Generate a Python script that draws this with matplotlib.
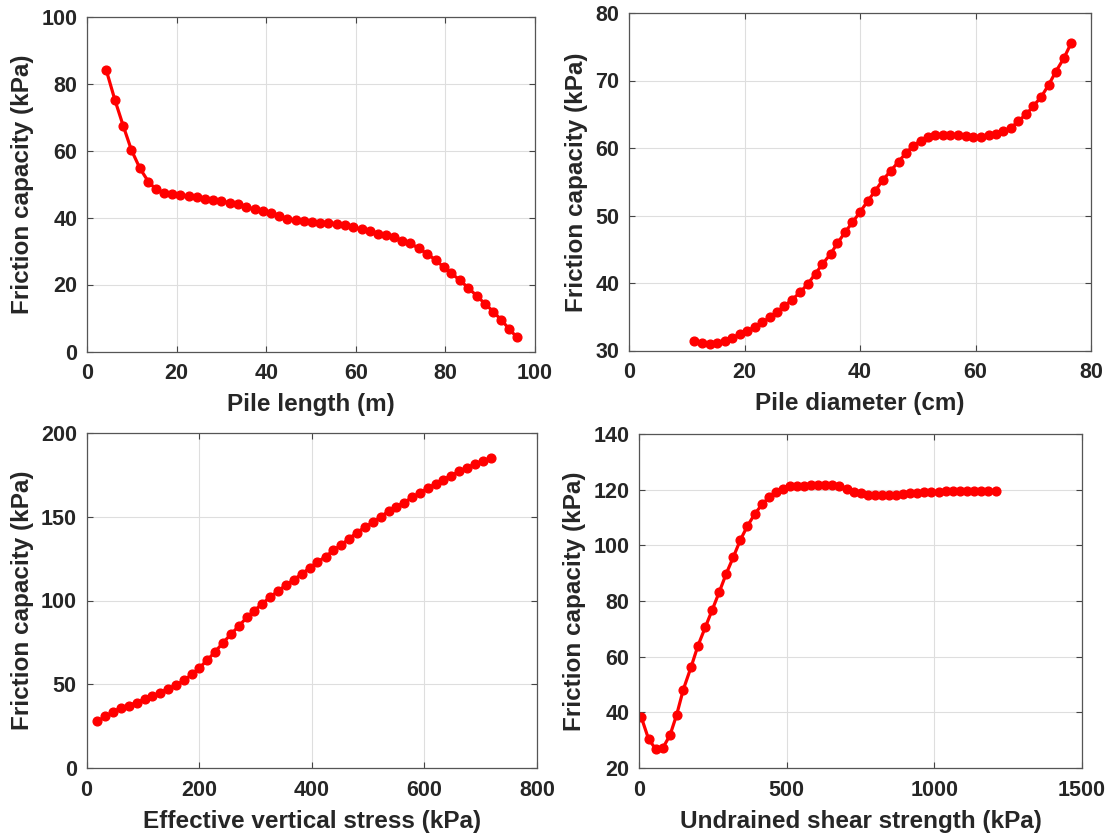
import matplotlib.pyplot as plt
import numpy as np

# ---- data ----
pile_len = [4.3, 6.2, 8.1, 9.9, 11.8, 13.7, 15.4, 17.2, 19.0, 20.8, 22.7, 24.6, 26.4,
            28.1, 30.0, 31.9, 33.7, 35.5, 37.4, 39.2, 41.0, 42.8, 44.7, 46.6, 48.4,
            50.2, 52.1, 53.9, 55.7, 57.5, 59.4, 61.3, 63.1, 64.9, 66.7, 68.5, 70.4,
            72.2, 74.0, 76.0, 77.8, 79.7, 81.3, 83.2, 85.1, 87.0, 88.8, 90.7, 92.4,
            94.2, 95.9]
fric_len = [84.0, 75.2, 67.3, 60.2, 54.7, 50.7, 48.4, 47.2, 46.9, 46.6, 46.3, 46.0, 45.6,
            45.3, 44.9, 44.4, 43.9, 43.2, 42.4, 41.9, 41.2, 40.5, 39.6, 39.2, 39.0,
            38.7, 38.5, 38.4, 38.2, 37.7, 37.1, 36.5, 35.9, 35.2, 34.7, 34.1, 33.1,
            32.3, 30.8, 29.1, 27.3, 25.1, 23.4, 21.3, 19.0, 16.6, 14.3, 11.9, 9.5,
            6.8, 4.3]

pile_diam = [11.2, 12.6, 14.0, 15.3, 16.7, 17.9, 19.2, 20.5, 21.8, 23.1, 24.4, 25.6, 26.9,
             28.2, 29.6, 31.0, 32.3, 33.5, 34.9, 36.1, 37.4, 38.7, 40.0, 41.3, 42.6,
             43.9, 45.3, 46.7, 47.9, 49.2, 50.5, 51.8, 53.0, 54.4, 55.6, 57.0, 58.3,
             59.6, 60.9, 62.3, 63.6, 64.8, 66.2, 67.4, 68.8, 70.0, 71.4, 72.7, 73.9,
             75.3, 76.6]
fric_diam = [31.4, 31.1, 30.9, 31.1, 31.4, 31.9, 32.4, 32.9, 33.5, 34.2, 34.9, 35.7, 36.6,
             37.5, 38.6, 39.9, 41.4, 42.8, 44.3, 45.9, 47.5, 49.0, 50.5, 52.1, 53.6,
             55.2, 56.6, 58.0, 59.2, 60.3, 61.1, 61.7, 62.0, 62.0, 62.0, 61.9, 61.8,
             61.7, 61.7, 61.9, 62.1, 62.5, 63.0, 64.0, 65.0, 66.2, 67.6, 69.4, 71.3,
             73.3, 75.6]

eff_stress = [19.5, 33.1, 47.3, 60.9, 75.7, 89.4, 103.5, 117.2, 131.4, 145.0, 159.8, 173.4,
              187.6, 200.6, 214.2, 227.8, 242.6, 256.2, 270.4, 284.6, 298.2, 312.4, 326.6,
              340.8, 354.4, 368.6, 382.8, 396.4, 410.0, 424.8, 438.4, 452.6, 466.3, 479.9,
              494.1, 508.3, 522.5, 536.7, 550.3, 563.9, 578.1, 592.3, 605.9, 620.1, 633.7,
              647.9, 662.1, 675.7, 689.9, 704.1, 717.7]
fric_stress = [27.8, 30.8, 33.3, 36.1, 37.3, 39.1, 41.1, 42.9, 45.0, 47.4, 49.6, 52.4, 56.0,
               59.9, 64.3, 69.2, 74.8, 79.8, 84.7, 89.9, 94.0, 98.2, 102.2, 105.8, 109.3,
               112.5, 116.1, 119.4, 123.0, 126.2, 130.0, 133.3, 136.9, 140.5, 143.7, 146.6,
               150.0, 153.4, 156.0, 158.5, 161.5, 164.3, 167.1, 169.6, 172.2, 174.6, 177.2,
               179.2, 181.5, 183.3, 185.1]

shear_str = [7.9, 32.7, 57.6, 81.3, 105.0, 127.5, 150.1, 176.1, 199.8, 224.6, 248.3, 272.0,
             294.6, 319.4, 343.1, 366.8, 391.7, 416.5, 440.2, 463.9, 486.5, 511.3, 535.0,
             558.7, 583.5, 607.2, 630.9, 654.6, 678.3, 703.2, 726.9, 750.6, 774.3, 799.1,
             822.8, 846.5, 870.2, 893.9, 918.8, 942.5, 966.2, 989.9, 1014.7, 1038.4, 1062.1,
             1087.0, 1110.7, 1134.3, 1158.1, 1181.8, 1207.7]
fric_shear = [38.2, 30.3, 26.7, 27.3, 31.8, 39.1, 48.2, 56.2, 64.0, 70.6, 76.9, 83.3, 89.6,
              95.8, 101.9, 106.9, 111.2, 114.7, 117.3, 119.3, 120.3, 121.2, 121.4, 121.4,
              121.5, 121.6, 121.8, 121.8, 121.2, 120.3, 119.3, 118.7, 118.2, 118.1, 118.1,
              118.1, 118.2, 118.4, 118.7, 118.8, 119.0, 119.1, 119.3, 119.4, 119.5, 119.6,
              119.6, 119.6, 119.5, 119.5, 119.5]

ylab = "Friction capacity (kPa)"
panels = [
    (pile_len, fric_len, "Pile length (m)", (0, 100), (0, 100), 20, 20),
    (pile_diam, fric_diam, "Pile diameter (cm)", (0, 80), (30, 80), 20, 10),
    (eff_stress, fric_stress, "Effective vertical stress (kPa)", (0, 800), (0, 200), 200, 50),
    (shear_str, fric_shear, "Undrained shear strength (kPa)", (0, 1500), (20, 140), 500, 20),
]

W, H = 1110, 834
# axes boxes in pixels: left, right, top, bottom
boxes = [(87, 535, 16.5, 351.5), (629, 1091, 13, 350.5),
         (86.5, 537, 433, 768), (639, 1082, 434, 768)]

plt.rcParams['font.family'] = ['Liberation Sans', 'DejaVu Sans']
plt.rcParams['font.weight'] = 'bold'
txt = '#262626'

fig = plt.figure(figsize=(W / 100, H / 100), dpi=100)
for (x, y, xl, xr, yr, dx, dy), (l, r, t, b) in zip(panels, boxes):
    ax = fig.add_axes([l / W, 1 - b / H, (r - l) / W, (b - t) / H])
    ax.plot(x, y, color='#ff0000', lw=2.3, marker='o', ms=6.3, mfc='#ff0000', mec='#ff0000')
    ax.set_xlim(*xr)
    ax.set_ylim(*yr)
    ax.set_xticks(np.arange(xr[0], xr[1] + dx / 2, dx))
    ax.set_yticks(np.arange(yr[0], yr[1] + dy / 2, dy))
    ax.grid(True, color='#dedede', lw=0.8)
    ax.set_axisbelow(True)
    ax.tick_params(direction='in', length=4, width=0.8, colors='#444444',
                   labelcolor=txt, labelsize=15.5, top=True, right=True)
    ax.tick_params(axis='x', pad=8.5)
    ax.tick_params(axis='y', pad=7)
    for s in ax.spines.values():
        s.set_color('#555555')
        s.set_linewidth(0.9)
    ax.set_xlabel(xl, fontsize=17.5, fontweight='bold', color=txt, labelpad=6.5)
    ax.set_ylabel(ylab, fontsize=17.5, fontweight='bold', color=txt, labelpad=5)

fig.savefig('out.png', dpi=100)
